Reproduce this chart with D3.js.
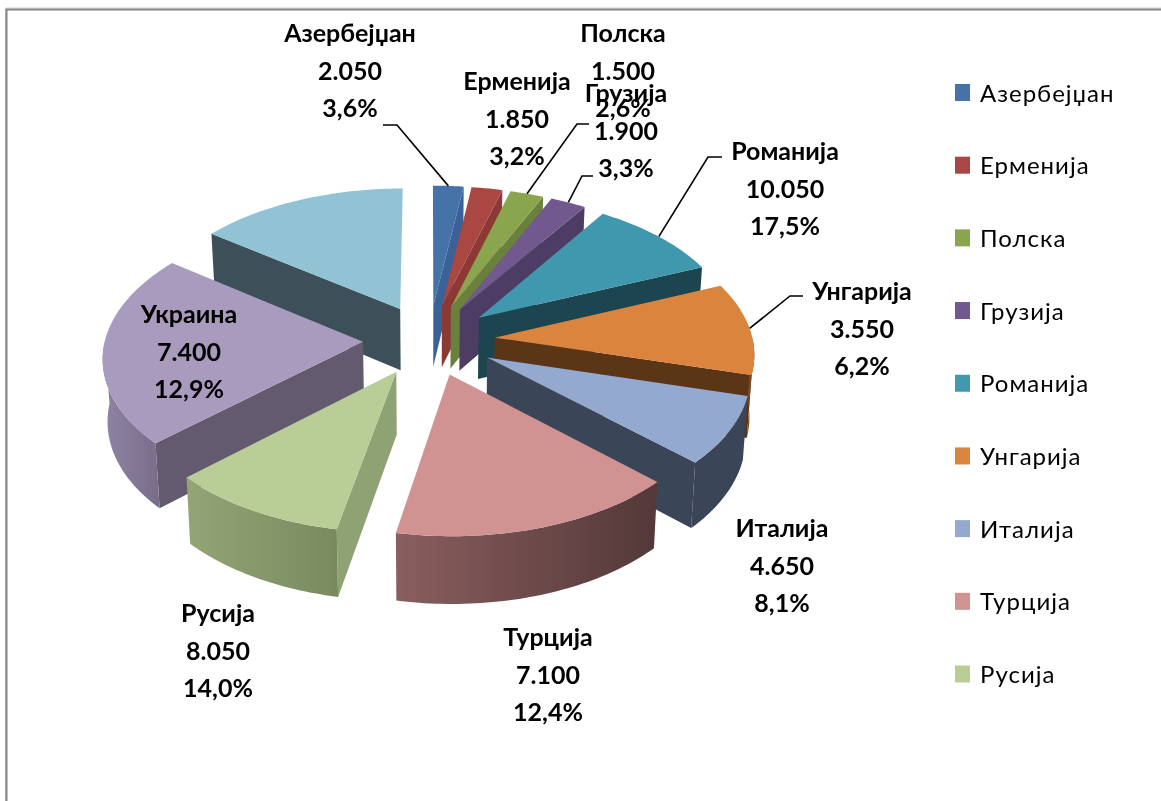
<!DOCTYPE html>
<html>
<head>
<meta charset="utf-8">
<script src="https://cdnjs.cloudflare.com/ajax/libs/d3/7.8.5/d3.min.js"></script>
<style>
  html, body { margin: 0; padding: 0; background: #fff; }
  svg { display: block; }
  text { font-family: Lato, "Open Sans", "Noto Sans", sans-serif; fill: #000; }
</style>
</head>
<body>
<svg id="chart" width="1161" height="801"></svg>
<script>
// Labels and legend, as printed in the picture
const categories = ['Азербејџан', 'Ерменија', 'Полска', 'Грузија', 'Романија', 'Унгарија', 'Италија', 'Турција', 'Русија', 'Украина', ''];
const values = [2050, 1850, 1500, 1900, 10050, 3550, 4650, 7100, 8050, 7400, null];
const percents = [3.6, 3.2, 2.6, 3.3, 17.5, 6.2, 8.1, 12.4, 14.0, 12.9, null];
const legendNames = categories.slice(0, 9);

// Size of each slice as it is drawn (degrees, they differ from the labels)
const sliceSweeps = [7.7, 7.8, 8.5, 9, 34, 38.3, 28.2, 57.5, 36, 80, 53];

const topColors = ['#4572a7', '#aa4643', '#89a54e', '#71588f', '#4198af', '#db843d', '#93a9cf', '#d19392', '#b9cd96', '#a99bbd', '#92c3d4'];
const cutColors = ['#3a6296', '#8c3836', '#6a803c', '#4e3d65', '#1c4450', '#5a3418', '#3a4558', '#6b4a4a', '#8fa273', '#645a70', '#3e5058'];
const sideFrom = ['#3a6296', '#8c3836', '#6a803c', '#4e3d65', '#1c4450', '#7a4a22', '#3a4558', '#8a5e5e', '#93a575', '#8f84a3', '#3e5058'];
const sideTo = ['#3a6296', '#8c3836', '#6a803c', '#4e3d65', '#1c4450', '#5a3418', '#3a4558', '#533839', '#7a8a60', '#7a6e8c', '#3e5058'];

const svg = d3.select('#chart');
const defs = svg.append('defs');
defs.append('filter').attr('id', 'soft')
  .attr('x', '-5%').attr('y', '-5%').attr('width', '110%').attr('height', '110%')
  .append('feGaussianBlur').attr('stdDeviation', 0.7);
defs.append('filter').attr('id', 'softText')
  .attr('x', '-5%').attr('y', '-5%').attr('width', '110%').attr('height', '110%')
  .append('feGaussianBlur').attr('stdDeviation', 0.35);

// Chart frame, only the top and left edges are inside the picture
const frame = svg.append('g').attr('fill', 'none');
frame.append('path').attr('d', 'M5.5,801V8H1161').attr('stroke', '#cfcfcf').attr('stroke-width', 1);
frame.append('path').attr('d', 'M6.5,801V9.5H1161').attr('stroke', '#858585').attr('stroke-width', 2);

// Perspective projection of the pie plane
const center = { x: 429, y: 340 };
const radius = 258;
const explode = 66;
const depth = 62;
const viewDist = 2600;
const squash = 0.536;
const bottomShrink = 0.985;

function project(gx, gy, lower) {
  const s = viewDist / (viewDist - gy);
  const px = gx * s;
  const py = squash * gy * s;
  if (!lower) return [center.x + px, center.y + py];
  return [center.x + px * bottomShrink, center.y + py * bottomShrink + depth * s];
}

const pie = d3.pie().sort(null).value((d) => d);
const arcs = pie(sliceSweeps);
const line = d3.line();

function groundPoint(slice, angle, r) {
  const mid = (slice.startAngle + slice.endAngle) / 2;
  return [
    explode * Math.sin(mid) + r * Math.sin(angle),
    -explode * Math.cos(mid) - r * Math.cos(angle),
  ];
}

function rimAngles(a0, a1) {
  const n = Math.max(2, Math.ceil((a1 - a0) / 0.02));
  return d3.range(n + 1).map((i) => a0 + ((a1 - a0) * i) / n);
}

// Far slices first so nearer ones paint over them
const order = d3.range(arcs.length).sort((a, b) => {
  const ma = (arcs[a].startAngle + arcs[a].endAngle) / 2;
  const mb = (arcs[b].startAngle + arcs[b].endAngle) / 2;
  return groundPoint(arcs[a], ma, 0)[1] - groundPoint(arcs[b], mb, 0)[1];
});

const pieG = svg.append('g').attr('filter', 'url(#soft)');

order.forEach((i) => {
  const slice = arcs[i];
  const g = pieG.append('g');
  const apex = groundPoint(slice, 0, 0);

  // Cut faces, only the ones turned towards the viewer
  [[slice.startAngle, -1], [slice.endAngle, 1]].forEach(([angle, dir]) => {
    const normalY = -Math.cos(angle + (dir * Math.PI) / 2);
    if (normalY <= 0) return;
    const p = groundPoint(slice, angle, radius);
    g.append('path')
      .attr('d', line([
        project(apex[0], apex[1], false),
        project(p[0], p[1], false),
        project(p[0], p[1], true),
        project(apex[0], apex[1], true),
      ]) + 'Z')
      .attr('fill', cutColors[i]);
  });

  // Outer wall, front half of the rim only
  const a0 = Math.max(slice.startAngle, Math.PI / 2);
  const a1 = Math.min(slice.endAngle, (3 * Math.PI) / 2);
  if (a1 > a0) {
    const rim = rimAngles(a0, a1).map((a) => groundPoint(slice, a, radius));
    const upper = rim.map((p) => project(p[0], p[1], false));
    const lower = rim.map((p) => project(p[0], p[1], true)).reverse();
    const xs = upper.map((p) => p[0]);
    const gradId = `side${i}`;
    const grad = defs.append('linearGradient').attr('id', gradId)
      .attr('gradientUnits', 'userSpaceOnUse')
      .attr('x1', d3.min(xs)).attr('x2', d3.max(xs)).attr('y1', 0).attr('y2', 0);
    grad.append('stop').attr('offset', 0).attr('stop-color', sideFrom[i]);
    grad.append('stop').attr('offset', 1).attr('stop-color', sideTo[i]);
    g.append('path')
      .attr('d', line(upper.concat(lower)) + 'Z')
      .attr('fill', `url(#${gradId})`);
  }

  // Top face
  const face = [apex].concat(rimAngles(slice.startAngle, slice.endAngle)
    .map((a) => groundPoint(slice, a, radius)));
  g.append('path')
    .attr('d', line(face.map((p) => project(p[0], p[1], false))) + 'Z')
    .attr('fill', topColors[i]);
});

// Data labels: category, value, percent
const labelX = [350, 517, 623, 626, 785, 862, 782, 548, 218, 189];
const labelY = [42, 90, 42, 102, 160, 300, 537, 646, 622, 323];
const lineStep = 37.6;
const numLocale = d3.formatLocale({ decimal: ',', thousands: '.', grouping: [3], currency: ['', ''] });
const fmtValue = numLocale.format(',d');
const fmtPct = numLocale.format('.1f');

// Leader lines: label end, elbow, then the rim of the slice
const leaderSlices = [0, 2, 3, 4, 5];
const leaderStart = [[383, 125], [589, 124], [593, 176], [722, 157], [803, 296]];
const leaderElbow = [[397, 125], [577, 124], [582, 176], [708, 157], [790, 296]];
leaderSlices.forEach((i, k) => {
  const mid = (arcs[i].startAngle + arcs[i].endAngle) / 2;
  const p = groundPoint(arcs[i], mid, radius);
  svg.append('path')
    .attr('d', line([leaderStart[k], leaderElbow[k], project(p[0], p[1], false)]))
    .attr('fill', 'none')
    .attr('stroke', '#000')
    .attr('stroke-width', 1.6);
});

const textG = svg.append('g').attr('filter', 'url(#softText)');

labelX.forEach((x, i) => {
  const t = textG.append('text')
    .attr('text-anchor', 'middle')
    .attr('font-size', 25)
    .attr('font-weight', 700);
  [categories[i], fmtValue(values[i]), `${fmtPct(percents[i])}%`].forEach((str, k) => {
    t.append('tspan').attr('x', x).attr('y', labelY[i] + k * lineStep).text(str);
  });
});

// Legend
const legendY = d3.scalePoint().domain(legendNames).range([92.5, 674]);
svg.append('g').selectAll('rect').data(legendNames).join('rect')
  .attr('x', 955).attr('y', (d) => legendY(d) - 8.5)
  .attr('width', 15).attr('height', 17)
  .attr('fill', (d, i) => topColors[i]);
textG.append('g').selectAll('text').data(legendNames).join('text')
  .attr('x', 980).attr('y', (d) => legendY(d) + 9)
  .attr('font-size', 24)
  .attr('letter-spacing', 1)
  .text((d) => d);
</script>
</body>
</html>
